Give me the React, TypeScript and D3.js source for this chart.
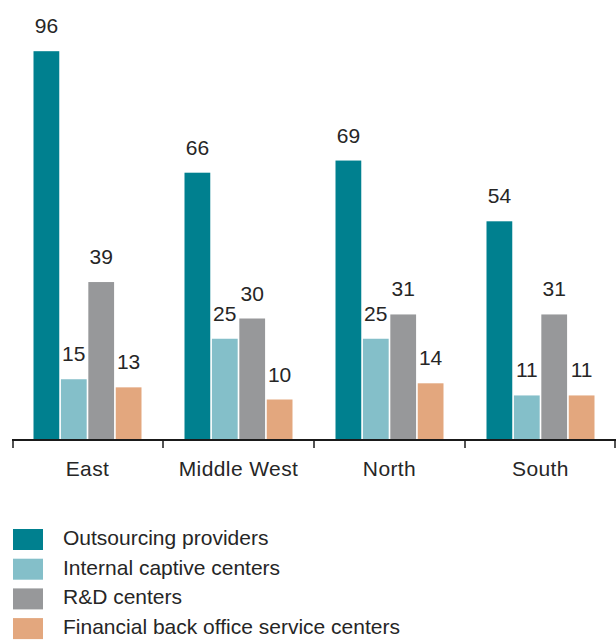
import React from "react";
import * as d3 from "d3";

const regions = ["East", "Middle West", "North", "South"];
const seriesNames = [
  "Outsourcing providers",
  "Internal captive centers",
  "R&D centers",
  "Financial back office service centers",
];
const outsourcing = [96, 66, 69, 54];
const captive = [15, 25, 25, 11];
const rnd = [39, 30, 31, 31];
const financial = [13, 10, 14, 11];
const colors = ["#00808f", "#84bfc9", "#97989a", "#e3a77e"];

const seriesValues = [outsourcing, captive, rnd, financial];

export default function App() {
  const width = 616;
  const height = 643;
  const baseY = 440;
  const x0 = d3.scaleBand<string>().domain(regions).range([12, 616]).padding(0);
  const bw = x0.bandwidth();
  const inset = 21.5;
  const x1 = d3
    .scaleBand<number>()
    .domain(d3.range(seriesNames.length))
    .range([inset, bw - inset])
    .paddingInner(0.06);
  const y = d3.scaleLinear().domain([0, 100]).range([baseY, 35]);
  const font = "'Liberation Sans', Arial, sans-serif";
  const textColor = "#262626";
  const fs = 21;

  return (
    <svg
      width={width}
      height={height}
      style={{ position: "absolute", left: 0, top: 0 }}
      fontFamily={font}
    >
      {regions.map((r, gi) => (
        <g key={r} transform={`translate(${x0(r)},0)`}>
          {seriesValues.map((vals, si) => {
            const v = vals[gi];
            const bx = x1(si)!;
            return (
              <g key={si}>
                <rect
                  x={bx}
                  y={y(v)}
                  width={x1.bandwidth()}
                  height={baseY - y(v)}
                  fill={colors[si]}
                />
                <text
                  x={bx + x1.bandwidth() / 2}
                  y={y(v) - 18}
                  textAnchor="middle"
                  fontSize={fs}
                  fill={textColor}
                >
                  {v}
                </text>
              </g>
            );
          })}
          <text
            x={bw / 2}
            y={476}
            textAnchor="middle"
            fontSize={fs}
            letterSpacing={0.4}
            fill={textColor}
          >
            {r}
          </text>
        </g>
      ))}
      <line x1={12} x2={616} y1={baseY} y2={baseY} stroke="#1a1a1a" strokeWidth={2} />
      {regions.concat(["end"]).map((r, i) => {
        const tx = i < regions.length ? x0(r)! : 616 - 1;
        return (
          <line
            key={i}
            x1={tx + (i === 0 ? 1 : 0)}
            x2={tx + (i === 0 ? 1 : 0)}
            y1={baseY}
            y2={baseY + 8}
            stroke="#1a1a1a"
            strokeWidth={1.5}
          />
        );
      })}
      {seriesNames.map((s, i) => (
        <g key={s} transform={`translate(13,${529 + i * 29.7})`}>
          <rect x={0} y={0} width={30} height={21} fill={colors[i]} />
          <text x={50} y={16} fontSize={fs} fill={textColor}>
            {s}
          </text>
        </g>
      ))}
    </svg>
  );
}
